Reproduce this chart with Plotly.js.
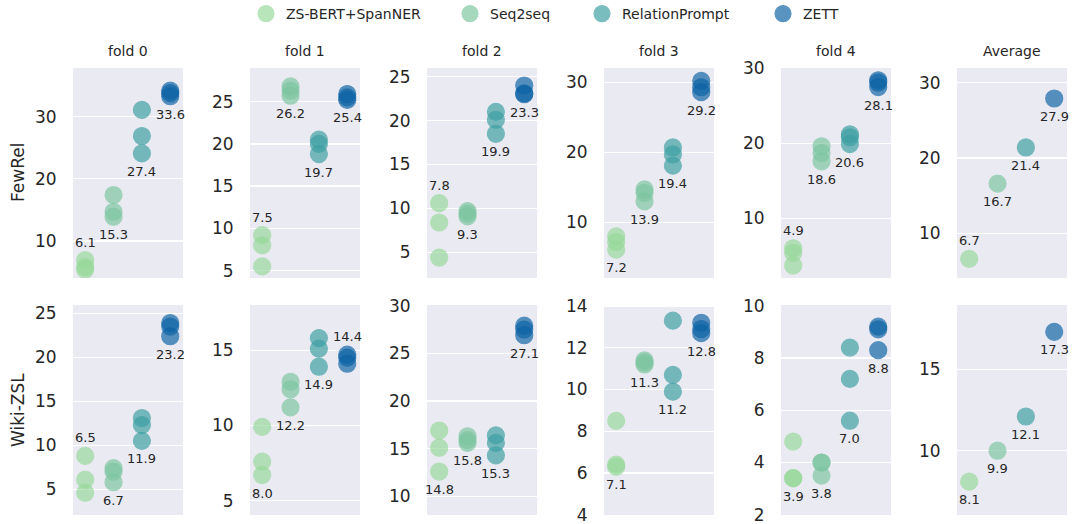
<!DOCTYPE html>
<html>
<head>
<meta charset="utf-8">
<script src="https://cdn.plot.ly/plotly-3.0.1.min.js"></script>
<style>html,body{margin:0;padding:0;background:#fff;}#chart{width:1075px;height:524px;}</style>
</head>
<body>
<div id="chart"></div>
<script>
// ---------- data ----------
const methods = ['ZS-BERT+SpanNER', 'Seq2seq', 'RelationPrompt', 'ZETT'];
const folds = ['fold 0', 'fold 1', 'fold 2', 'fold 3', 'fold 4', 'Average'];
const datasets = ['FewRel', 'Wiki-ZSL'];
const methodX = [0, 1, 2, 3];

// FewRel: per method, three runs
const fewrelFold0 = [[6.9, 5.8, 5.4], [17.4, 14.7, 13.9], [31.1, 26.9, 24.1], [34.2, 33.8, 33.3]];
const fewrelFold1 = [[9.2, 8.0, 5.5], [26.8, 26.3, 25.7], [20.5, 20.0, 18.8], [25.9, 25.5, 25.2]];
const fewrelFold2 = [[10.6, 8.4, 4.4], [9.7, 9.4, 9.1], [21.0, 20.1, 18.5], [24.0, 23.1, 23.0]];
const fewrelFold3 = [[8.0, 7.2, 6.1], [14.7, 14.2, 13.0], [20.7, 19.7, 18.1], [30.2, 29.3, 28.6]];
const fewrelFold4 = [[6.0, 5.4, 3.7], [19.6, 18.7, 17.6], [21.2, 20.8, 19.9], [28.4, 28.1, 27.5]];
const fewrelAvg = [[6.6], [16.6], [21.4], [27.9]];
const fewrelLabels = [
  [6.1, 15.3, 27.4, 33.6],
  [7.5, 26.2, 19.7, 25.4],
  [7.8, 9.3, 19.9, 23.3],
  [7.2, 13.9, 19.4, 29.2],
  [4.9, 18.6, 20.6, 28.1],
  [6.7, 16.7, 21.4, 27.9]
];

// Wiki-ZSL
const wikiFold0 = [[8.8, 6.1, 4.6], [7.4, 7.0, 5.8], [13.1, 12.3, 10.5], [23.9, 23.5, 22.4]];
const wikiFold1 = [[9.9, 7.6, 6.7], [12.9, 12.4, 11.2], [15.8, 15.1, 13.9], [14.7, 14.5, 14.1]];
const wikiFold2 = [[16.9, 15.1, 12.6], [16.3, 15.9, 15.6], [16.4, 15.6, 14.3], [27.9, 27.5, 26.9]];
const wikiFold3 = [[8.5, 6.4, 6.3], [11.4, 11.3, 11.2], [13.3, 10.7, 9.9], [13.2, 12.9, 12.7]];
const wikiFold4 = [[4.8, 3.4, 3.4], [4.0, 4.0, 3.5], [8.4, 7.2, 5.6], [9.2, 9.1, 8.3]];
const wikiAvg = [[8.1], [10.0], [12.1], [17.3]];
const wikiLabels = [
  [6.5, 6.7, 11.9, 23.2],
  [8.0, 12.2, 14.9, 14.4],
  [14.8, 15.8, 15.3, 27.1],
  [7.1, 11.3, 11.2, 12.8],
  [3.9, 3.8, 7.0, 8.8],
  [8.1, 9.9, 12.1, 17.3]
];

const panelData = [
  [fewrelFold0, fewrelFold1, fewrelFold2, fewrelFold3, fewrelFold4, fewrelAvg],
  [wikiFold0, wikiFold1, wikiFold2, wikiFold3, wikiFold4, wikiAvg]
];
const panelLabels = [fewrelLabels, wikiLabels];

// ---------- style / layout ----------
const colors = ['#97d99a', '#7dc6a0', '#3c9fa2', '#0c63a5'];
const labelSide = [
  [['a','b','b','b'], ['a','b','b','b'], ['a','b','b','b'], ['b','b','b','b'], ['a','b','b','b'], ['a','b','b','b']],
  [['a','b','b','b'], ['b','b','b','a'], ['b','b','b','b'], ['b','b','b','b'], ['b','b','b','b'], ['b','b','b','b']]
];
const yRanges = [
  [[4.03, 37.85], [4.13, 28.98], [2.08, 25.99], [2.05, 32.05], [2.04, 30.04], [4.07, 31.95]],
  [[2.08, 25.95], [4.05, 18.0], [8.04, 30.07], [3.99, 14.05], [1.99, 10.03], [6.05, 18.95]]
];
const yDticks = [[10, 5, 5, 10, 10, 10], [5, 5, 5, 2, 2, 5]];

const FW = 1075, FH = 524;
const colLeft = [73, 250, 427, 604, 781, 957];
const colW = 110;
const rowTop = [68, 305];
const rowH = 210;
const legendSymbolX = [266, 470, 602, 783];
const legendNames = ['legend', 'legend2', 'legend3', 'legend4'];
const font = 'DejaVu Sans, Liberation Sans, sans-serif';
const textColor = '#262626';

const traces = [];
const annotations = [];
const layout = {
  width: FW, height: FH,
  margin: {l: 0, r: 0, t: 0, b: 0, autoexpand: false},
  paper_bgcolor: '#ffffff',
  plot_bgcolor: '#eaeaf2',
  font: {family: font, color: textColor},
  showlegend: true
};
for (let m = 0; m < methods.length; m++) {
  layout[legendNames[m]] = {
    orientation: 'h', x: (legendSymbolX[m] - 20) / FW, xanchor: 'left',
    y: 1 + 2 / FH, yanchor: 'top',
    font: {size: 14, family: font, color: textColor},
    bgcolor: 'rgba(0,0,0,0)', itemwidth: 30
  };
}

for (let r = 0; r < 2; r++) {
  for (let c = 0; c < 6; c++) {
    const k = r * 6 + c + 1;
    const xa = 'xaxis' + (k === 1 ? '' : k);
    const ya = 'yaxis' + (k === 1 ? '' : k);
    const xref = 'x' + (k === 1 ? '' : k);
    const yref = 'y' + (k === 1 ? '' : k);
    layout[xa] = {
      domain: [colLeft[c] / FW, (colLeft[c] + colW) / FW],
      range: [-0.43, 3.45],
      showgrid: false, zeroline: false, showticklabels: false, ticks: '',
      anchor: yref, fixedrange: true
    };
    layout[ya] = {
      domain: [1 - (rowTop[r] + rowH) / FH, 1 - rowTop[r] / FH],
      range: yRanges[r][c],
      dtick: yDticks[r][c], tick0: 0,
      showgrid: true, gridcolor: '#ffffff', gridwidth: 1.3,
      zeroline: false, showline: false,
      ticks: 'outside', ticklen: 12, tickcolor: 'rgba(0,0,0,0)',
      ticklabeloverflow: 'allow',
      tickfont: {size: 17, family: font, color: textColor},
      anchor: xref, fixedrange: true
    };
    const pd = panelData[r][c];
    for (let m = 0; m < methods.length; m++) {
      const vals = pd[m];
      traces.push({
        type: 'scatter', mode: 'markers',
        x: vals.map(() => methodX[m]), y: vals,
        xaxis: xref, yaxis: yref,
        name: methods[m], legendgroup: methods[m], legend: legendNames[m],
        showlegend: (r === 0 && c === 0),
        marker: {size: 17, color: colors[m], opacity: 0.68, line: {color: colors[m], width: 1.2}},
        hoverinfo: 'y+name'
      });
      const side = labelSide[r][c][m];
      const yv = side === 'a' ? Math.max(...vals) : Math.min(...vals);
      annotations.push({
        x: methodX[m], y: yv, xref: xref, yref: yref,
        text: panelLabels[r][c][m].toFixed(1), showarrow: false,
        yshift: side === 'a' ? 18 : -18, yanchor: 'middle', xanchor: 'center',
        font: {size: 13, family: font, color: textColor}
      });
    }
    if (r === 0) {
      annotations.push({
        x: (colLeft[c] + colW / 2) / FW, y: 1 - 51 / FH, xref: 'paper', yref: 'paper',
        text: folds[c], showarrow: false, xanchor: 'center', yanchor: 'middle',
        font: {size: 14, family: font, color: textColor}
      });
    }
  }
  annotations.push({
    x: 18 / FW, y: 1 - (rowTop[r] + rowH / 2) / FH, xref: 'paper', yref: 'paper',
    text: datasets[r], showarrow: false, textangle: -90, xanchor: 'center', yanchor: 'middle',
    font: {size: 17, family: font, color: textColor}
  });
}
layout.annotations = annotations;

Plotly.newPlot('chart', traces, layout, {staticPlot: true, displayModeBar: false});
</script>
</body>
</html>
